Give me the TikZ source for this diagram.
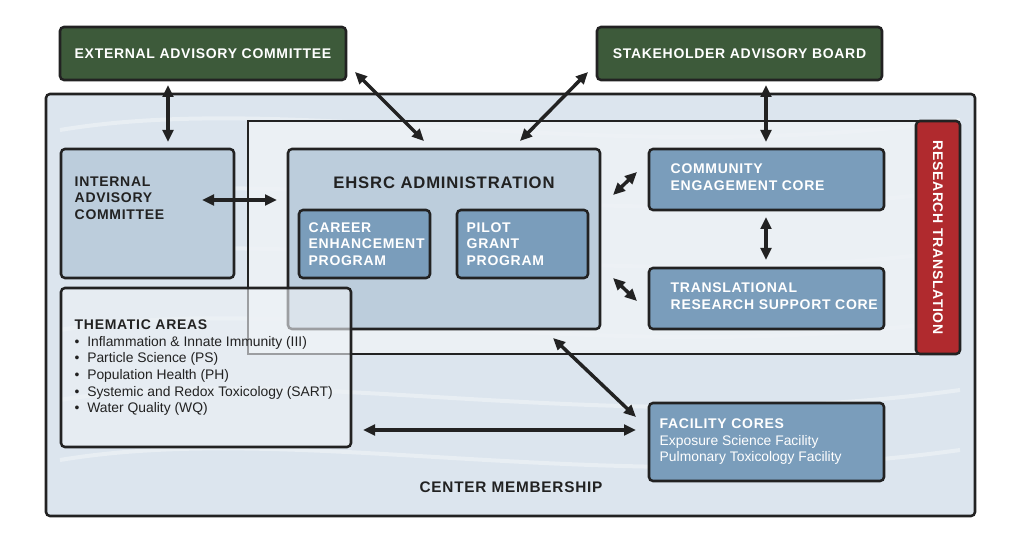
\documentclass[tikz,border=0pt]{standalone}
\usepackage{fontspec}
\setmainfont{Liberation Sans}
\newfontfamily\hdfont[LetterSpace=5]{Liberation Sans}
\usetikzlibrary{fit,arrows.meta}
\definecolor{dgreen}{HTML}{3D5A3A}
\definecolor{outerbg}{HTML}{DCE5EE}
\definecolor{innerbg}{HTML}{EEF2F6}
\definecolor{lblue}{HTML}{BCCDDC}
\definecolor{mblue}{HTML}{7A9DBB}
\definecolor{rred}{HTML}{B02A2E}
\definecolor{ink}{HTML}{222222}
\begin{document}
\begin{tikzpicture}[x=0.75pt,y=-0.75pt,
  box/.style={draw=ink,line width=1.9pt,rounded corners=3pt,inner sep=0pt},
  hd/.style={font=\hdfont\bfseries\fontsize{10.5}{12.5}\selectfont,align=left,text=ink},
  hw/.style={hd,text=white},
  tx/.style={font=\fontsize{10.4}{12.5}\selectfont,align=left,text=ink},
  arr/.style={{Triangle[length=9pt,width=8pt]}-{Triangle[length=9pt,width=8pt]},line width=2.6pt,draw=ink}]
\useasboundingbox (0,0) rectangle (1024,538);
\fill[white] (0,0) rectangle (1024,538);
% outer
\node[box,fill=outerbg,fit={(46,94)(975,516)}] (outer) {};
\foreach \yy in {130,200,260,330,400,460}{
  \draw[white,line width=3pt,opacity=0.35] (60,\yy) .. controls (300,\yy-40) and (600,\yy+40) .. (960,\yy-10);}
\node[draw=ink,line width=1.6pt,fill=innerbg,fill opacity=0.85,inner sep=0pt,fit={(248,121)(918,354)}] (inner) {};
\node[box,fill=rred,fit={(916,121)(960,354)}] (rt) {};
\node[hw,rotate=-90] (rtt) at (rt.center) {RESEARCH TRANSLATION};
% top
\node[box,fill=dgreen,fit={(60,27)(346,80)}] (eac) {};
\node[hw] (eact) at (eac.center) {EXTERNAL ADVISORY COMMITTEE};
\node[box,fill=dgreen,fit={(597,27)(882,80)}] (sab) {};
\node[hw] (sabt) at (sab.center) {STAKEHOLDER ADVISORY BOARD};
% internal
\node[box,fill=lblue,fit={(61,149)(234,278)}] (iac) {};
\node[hd,anchor=west] (iact) at (70,198) {INTERNAL\\ADVISORY\\COMMITTEE};
% admin
\node[box,fill=lblue,fit={(288,149)(600,329)}] (adm) {};
\node[hd,font=\hdfont\bfseries\fontsize{12.5}{14}\selectfont] (admt) at (444,183) {EHSRC ADMINISTRATION};
\node[box,fill=mblue,fit={(299,210)(430,278)}] (cep) {};
\node[hw,anchor=west] (cept) at (304,244) {CAREER\\ENHANCEMENT\\PROGRAM};
\node[box,fill=mblue,fit={(457,210)(588,278)}] (pgp) {};
\node[hw,anchor=west] (pgpt) at (462,244) {PILOT\\GRANT\\PROGRAM};
% cores
\node[box,fill=mblue,fit={(649,149)(884,210)}] (cec) {};
\node[hw,anchor=west] (cect) at (666,177) {COMMUNITY\\ENGAGEMENT CORE};
\node[box,fill=mblue,fit={(649,268)(884,329)}] (trc) {};
\node[hw,anchor=west] (trct) at (666,296) {TRANSLATIONAL\\RESEARCH SUPPORT CORE};
% thematic
\node[box,fill=innerbg,fill opacity=0.6,fit={(61,288)(351,447)}] (tha) {};
\node[tx,anchor=north west] (that) at (70,315) {{\hdfont\bfseries\fontsize{10.5}{12.5}\selectfont THEMATIC AREAS}\\
\textbullet\ \ Inflammation \& Innate Immunity (III)\\
\textbullet\ \ Particle Science (PS)\\
\textbullet\ \ Population Health (PH)\\
\textbullet\ \ Systemic and Redox Toxicology (SART)\\
\textbullet\ \ Water Quality (WQ)};
% facility
\node[box,fill=mblue,fit={(649,403)(884,481)}] (fac) {};
\node[tx,anchor=north west,text=white] (fact) at (655,414) {{\hdfont\bfseries\fontsize{10.5}{12.5}\selectfont FACILITY CORES}\\Exposure Science Facility\\Pulmonary Toxicology Facility};
\node[hd,font=\hdfont\bfseries\fontsize{11.5}{13}\selectfont] (cm) at (511,487) {CENTER MEMBERSHIP};
% arrows
\coordinate (a1) at (168,85); \coordinate (a2) at (168,142);
\coordinate (b1) at (355,72); \coordinate (b2) at (424,141);
\coordinate (c1) at (588,72); \coordinate (c2) at (520,141);
\coordinate (d1) at (766,85); \coordinate (d2) at (766,142);
\coordinate (e1) at (202,200); \coordinate (e2) at (277,200);
\coordinate (f1) at (613,195); \coordinate (f2) at (637,172);
\coordinate (g1) at (613,278); \coordinate (g2) at (637,301);
\coordinate (h1) at (766,217); \coordinate (h2) at (766,260);
\coordinate (i1) at (553,338); \coordinate (i2) at (636,417);
\coordinate (j1) at (363,430); \coordinate (j2) at (636,430);
\foreach \p in {a,b,c,d,e,f,g,h,i,j}{\draw[arr] (\p1) -- (\p2);}
\end{tikzpicture}
\end{document}
